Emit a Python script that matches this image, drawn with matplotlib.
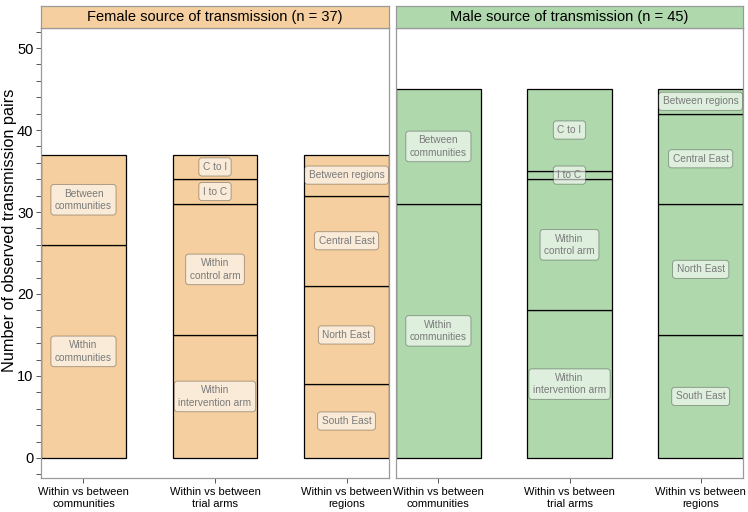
import numpy as np
import matplotlib
matplotlib.use('Agg')
import matplotlib.pyplot as plt
from matplotlib.ticker import MultipleLocator

plt.rcParams['font.family'] = ['Liberation Sans', 'DejaVu Sans']

# ---- data (counts of transmission pairs, stacked bottom -> top) ----
categories = ['Within vs between\ncommunities', 'Within vs between\ntrial arms',
              'Within vs between\nregions']
comm_labels = ['Within\ncommunities', 'Between\ncommunities']
arms_labels = ['Within\nintervention arm', 'Within\ncontrol arm', 'I to C', 'C to I']
reg_labels = ['South East', 'North East', 'Central East', 'Between regions']

female_comm = [26, 11]
female_arms = [15, 16, 3, 3]
female_reg = [9, 12, 11, 5]

male_comm = [31, 14]
male_arms = [18, 16, 1, 10]
male_reg = [15, 16, 11, 3]

panels = [
    ('Female source of transmission (n = 37)', '#F5CF9F',
     [female_comm, female_arms, female_reg]),
    ('Male source of transmission (n = 45)', '#AFD8AD',
     [male_comm, male_arms, male_reg]),
]
seg_labels = [comm_labels, arms_labels, reg_labels]

W, H = 748, 512
fig = plt.figure(figsize=(W / 100, H / 100), dpi=100)

px = lambda x0, x1, y0, y1: [x0 / W, 1 - y1 / H, (x1 - x0) / W, (y1 - y0) / H]
panel_x = [(41, 389), (396, 743)]
BW = 0.646
GRAY = '#9a9a9a'

for i, (title, col, groups) in enumerate(panels):
    x0, x1 = panel_x[i]
    ax = fig.add_axes(px(x0, x1, 28, 478))
    st = fig.add_axes(px(x0, x1, 6, 28))

    for j, (vals, labs) in enumerate(zip(groups, seg_labels)):
        bottom = 0
        for v, lab in zip(vals, labs):
            ax.bar(j + 1, v, bottom=bottom, width=BW, color=col,
                   edgecolor='black', linewidth=0.9)
            ax.text(j + 1, bottom + v / 2, lab, ha='center', va='center',
                    fontsize=7.3, color='#7a7a7a', linespacing=1.3,
                    bbox=dict(boxstyle='round,pad=0.4,rounding_size=0.3',
                              fc=(1, 1, 1, 0.6), ec=(0, 0, 0, 0.3), lw=0.7),
                    zorder=5)
            bottom += v

    ax.set_xlim(1 - BW / 2, 3 + BW / 2)
    ax.set_ylim(-2.45, 52.45)
    ax.set_xticks([1, 2, 3])
    ax.set_xticklabels(categories, fontsize=8)
    ax.yaxis.set_major_locator(MultipleLocator(10))
    ax.yaxis.set_minor_locator(MultipleLocator(2))
    ax.tick_params(axis='both', which='both', length=3.5, color='#555555', width=0.7)
    ax.tick_params(axis='x', pad=3)
    ax.tick_params(axis='y', labelsize=10.5, pad=2)
    for s in ax.spines.values():
        s.set_color(GRAY)
        s.set_linewidth(0.9)
    if i > 0:
        ax.tick_params(axis='y', which='both', left=False, labelleft=False)

    st.set_facecolor(col)
    st.set_xticks([])
    st.set_yticks([])
    for s in st.spines.values():
        s.set_color(GRAY)
        s.set_linewidth(0.9)
    st.text(0.5, 0.5, title, ha='center', va='center', fontsize=10.5,
            transform=st.transAxes)

fig.text(10 / W, 1 - 230 / H, 'Number of observed transmission pairs',
         rotation=90, ha='center', va='center', fontsize=11.7)

fig.savefig('out.png', dpi=100)
